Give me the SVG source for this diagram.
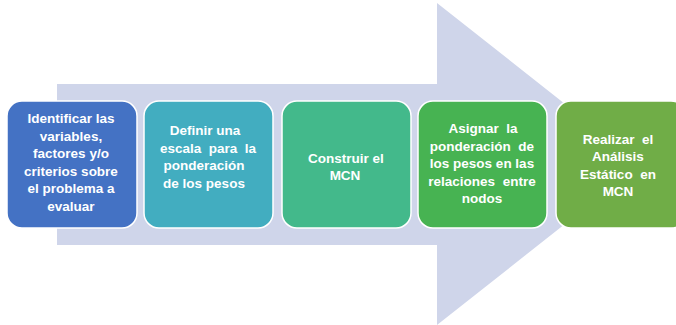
<svg xmlns="http://www.w3.org/2000/svg" width="676" height="325" viewBox="0 0 676 325">
<style>
.box{stroke:#ffffff;stroke-width:1.5}
.t{font-family:"Liberation Sans",Arial,sans-serif;font-weight:bold;font-size:13.5px;fill:#ffffff;text-anchor:middle;white-space:pre}
</style>
<rect width="676" height="325" fill="#ffffff"/>
<g id="connectors">
<polygon points="57,84 437,84 437,3 641,164 437,325 437,245 57,245" fill="#CFD5EA"/>
</g>
<g id="n1">
<rect class="box" x="7" y="101" width="130" height="127" rx="15" fill="#4472C4"/>
<text class="t" x="71" y="123">Identificar las</text>
<text class="t" x="71" y="140.5">variables,</text>
<text class="t" x="71" y="158">factores y/o</text>
<text class="t" x="71" y="175.5">criterios sobre</text>
<text class="t" x="71" y="193">el problema a</text>
<text class="t" x="71" y="210.5">evaluar</text>
</g>
<g id="n2">
<rect class="box" x="144" y="101" width="129" height="127" rx="15" fill="#42ADC0"/>
<text class="t" x="205" y="135">Definir una</text>
<text class="t" x="208" y="152.5" xml:space="preserve">escala  para  la</text>
<text class="t" x="204" y="170">ponderación</text>
<text class="t" x="204" y="187.5">de los pesos</text>
</g>
<g id="n3">
<rect class="box" x="282" y="101" width="129" height="127" rx="15" fill="#43B98B"/>
<text class="t" x="346" y="162.5">Construir el</text>
<text class="t" x="345" y="180">MCN</text>
</g>
<g id="n4">
<rect class="box" x="418" y="101" width="129" height="127" rx="15" fill="#47B352"/>
<text class="t" x="483" y="133" xml:space="preserve">Asignar  la</text>
<text class="t" x="482" y="150.5" xml:space="preserve">ponderación  de</text>
<text class="t" x="482" y="168">los pesos en las</text>
<text class="t" x="482" y="185.5" xml:space="preserve">relaciones  entre</text>
<text class="t" x="482" y="203">nodos</text>
</g>
<g id="n5">
<rect class="box" x="556" y="101" width="130" height="127" rx="15" fill="#70AD47"/>
<text class="t" x="618" y="143.5" xml:space="preserve">Realizar  el</text>
<text class="t" x="618" y="161">Análisis</text>
<text class="t" x="618" y="178.5" xml:space="preserve">Estático  en</text>
<text class="t" x="618" y="196">MCN</text>
</g>
</svg>
